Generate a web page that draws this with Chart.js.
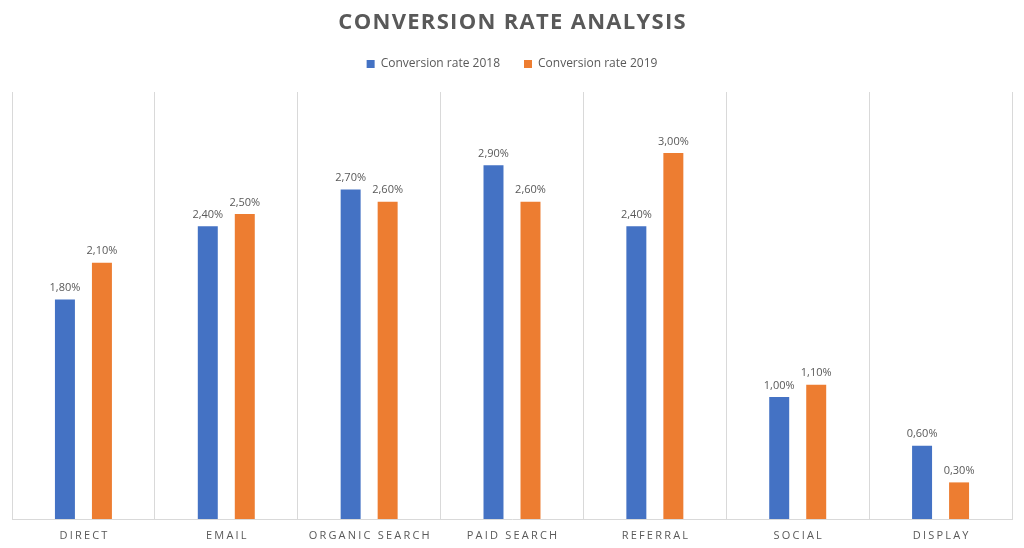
<!DOCTYPE html>
<html>
<head>
<meta charset="utf-8">
<script src="https://cdn.jsdelivr.net/npm/chart.js@4/dist/chart.umd.min.js"></script>
<style>
html,body{margin:0;padding:0;background:#fff;}
#wrap{width:1024px;height:548px;}
</style>
</head>
<body>
<div id="wrap"><canvas id="c" width="1024" height="548"></canvas></div>
<script>
const categories = ['DIRECT','EMAIL','ORGANIC SEARCH','PAID SEARCH','REFERRAL','SOCIAL','DISPLAY'];
const rate2018 = [1.8, 2.4, 2.7, 2.9, 2.4, 1.0, 0.6];
const rate2019 = [2.1, 2.5, 2.6, 2.6, 3.0, 1.1, 0.3];
const seriesNames = ['Conversion rate 2018', 'Conversion rate 2019'];
const titleText = 'CONVERSION RATE ANALYSIS';

const GRAY = '#595959';
const FONT = '"Open Sans", "Liberation Sans", sans-serif';

function spacedText(ctx, text, cx, y, spacing) {
  ctx.save();
  ctx.letterSpacing = '0px';
  const w = ctx.measureText(text).width + spacing * (text.length - 1);
  ctx.letterSpacing = spacing + 'px';
  ctx.textAlign = 'left';
  ctx.fillText(text, cx - w / 2, y);
  ctx.restore();
}

const legendSpacer = {
  id: 'legendSpacer',
  beforeInit(chart) {
    const orig = chart.legend.fit;
    chart.legend.fit = function () {
      orig.call(this);
      this.height += 12;
    };
  }
};

const extras = {
  id: 'extras',
  afterDraw(chart) {
    const ctx = chart.ctx;
    // title
    ctx.save();
    ctx.fillStyle = GRAY;
    ctx.font = 'bold 22px ' + FONT;
    ctx.textBaseline = 'middle';
    spacedText(ctx, titleText, 512, 23, 1.3);
    ctx.restore();
    // category labels
    const xs = chart.scales.x;
    ctx.save();
    ctx.fillStyle = GRAY;
    ctx.font = '11px ' + FONT;
    ctx.textBaseline = 'middle';
    categories.forEach((c, i) => {
      spacedText(ctx, c, xs.getPixelForValue(i), chart.chartArea.bottom + 17, 2.2);
    });
    ctx.restore();
    // data labels
    ctx.save();
    ctx.fillStyle = GRAY;
    ctx.font = '11px ' + FONT;
    ctx.textAlign = 'center';
    ctx.textBaseline = 'bottom';
    chart.data.datasets.forEach((ds, di) => {
      const meta = chart.getDatasetMeta(di);
      meta.data.forEach((bar, i) => {
        const v = ds.data[i];
        const txt = v.toFixed(2).replace('.', ',') + '%';
        ctx.fillText(txt, bar.x, bar.y - 6);
      });
    });
    ctx.restore();
  }
};

new Chart(document.getElementById('c'), {
  type: 'bar',
  data: {
    labels: categories,
    datasets: [
      { label: seriesNames[0], data: rate2018, backgroundColor: '#4472C4', borderWidth: 0,
        categoryPercentage: 0.518, barPercentage: 0.54 },
      { label: seriesNames[1], data: rate2019, backgroundColor: '#ED7D31', borderWidth: 0,
        categoryPercentage: 0.518, barPercentage: 0.54 }
    ]
  },
  options: {
    responsive: false,
    animation: false,
    layout: { padding: { top: 34, left: 12, right: 12, bottom: 29 } },
    plugins: {
      title: { display: false },
      tooltip: { enabled: false },
      legend: {
        position: 'top',
        labels: {
          color: GRAY,
          font: { size: 12, family: FONT },
          boxWidth: 8, boxHeight: 8,
          padding: 24
        }
      }
    },
    scales: {
      x: {
        ticks: { display: false },
        grid: { offset: true, color: '#d9d9d9', drawTicks: false },
        border: { color: '#d9d9d9' }
      },
      y: {
        display: false,
        min: 0, max: 3.5
      }
    }
  },
  plugins: [legendSpacer, extras]
});
</script>
</body>
</html>
